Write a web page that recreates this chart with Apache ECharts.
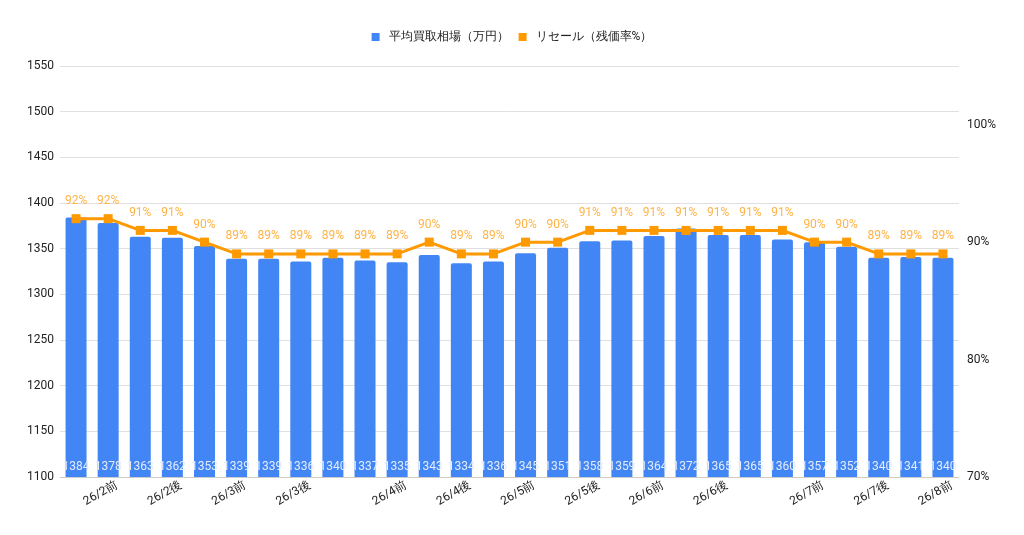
<!DOCTYPE html>
<html>
<head>
<meta charset="utf-8">
<script src="https://cdn.jsdelivr.net/npm/echarts@6/dist/echarts.min.js"></script>
<style>html,body{margin:0;padding:0;background:#fff}#c{width:1024px;height:535px}</style>
</head>
<body>
<div id="c"></div>
<script>
const categories = ["26/2前","26/2前","26/2後","26/2後","26/3前","26/3前","26/3後","26/3後","26/3後","26/4前","26/4前","26/4後","26/4後","26/5前","26/5前","26/5後","26/5後","26/6前","26/6前","26/6後","26/6後","26/6後","26/7前","26/7前","26/7後","26/7後","26/8前","26/8前"];
const shownLabelIdx = [1,3,5,7,10,12,14,16,18,20,23,25,27];
const priceValues = [1384,1378,1363,1362,1353,1339,1339,1336,1340,1337,1335,1343,1334,1336,1345,1351,1358,1359,1364,1372,1365,1365,1360,1357,1352,1340,1341,1340];
const resaleValues = [92,92,91,91,90,89,89,89,89,89,89,90,89,89,90,90,91,91,91,91,91,91,91,90,90,89,89,89];
const leftTicks = {min:1100, max:1550, interval:50};
const rightTicks = {min:70, max:105, interval:10};

const chart = echarts.init(document.getElementById('c'));
const font = 'Roboto, Arial, sans-serif';
chart.setOption({
  animation:false,
  textStyle:{fontFamily:font},
  legend:{
    top:26, left:'center', itemWidth:8, itemHeight:8, itemGap:10,
    icon:'rect',
    textStyle:{fontSize:12, color:'#222', fontFamily:font, padding:[0,0,0,4]},
    data:[{name:'平均買取相場（万円）', icon:'rect'},{name:'リセール（残価率%）', icon:'rect'}]
  },
  grid:{left:60, right:65, top:66, bottom:58, containLabel:false},
  xAxis:{
    type:'category', data:categories,
    axisLine:{show:true, lineStyle:{color:'#cccccc'}},
    axisTick:{show:false},
    axisLabel:{
      interval:function(i){return shownLabelIdx.indexOf(i) >= 0;},
      rotate:30, fontSize:12, color:'#222', margin:12, fontFamily:font,
      padding:[0,-10,0,0]
    }
  },
  yAxis:[
    {type:'value', min:leftTicks.min, max:leftTicks.max, interval:leftTicks.interval,
     axisLine:{show:false}, axisTick:{show:false},
     splitLine:{lineStyle:{color:'#e0e0e0'}},
     axisLabel:{fontSize:12, color:'#222', margin:6, fontFamily:font,
       formatter:function(v){return String(v);}}},
    {type:'value', min:rightTicks.min, max:rightTicks.max, interval:rightTicks.interval,
     axisLine:{show:false}, axisTick:{show:false}, splitLine:{show:false},
     axisLabel:{fontSize:12, color:'#222', margin:8, fontFamily:font, showMaxLabel:false,
       formatter:function(v){return (v % 10 === 0 && v <= 100) ? v + '%' : '';}}}
  ],
  series:[
    {name:'平均買取相場（万円）', type:'bar', data:priceValues, barWidth:21, yAxisIndex:0,
     itemStyle:{color:'#4285f4', borderRadius:[2,2,0,0]},
     label:{show:true, position:'insideBottom', distance:4, color:'#e3ecfd', fontSize:12, fontFamily:font}},
    {name:'リセール（残価率%）', type:'line', data:resaleValues, yAxisIndex:1,
     symbol:'rect', symbolSize:9,
     lineStyle:{color:'#ff9900', width:3}, itemStyle:{color:'#ff9900'},
     label:{show:true, position:'top', distance:7, color:'#ffb347', fontSize:12, fontFamily:font,
       formatter:function(p){return p.value + '%';}}}
  ]
});
</script>
</body>
</html>
